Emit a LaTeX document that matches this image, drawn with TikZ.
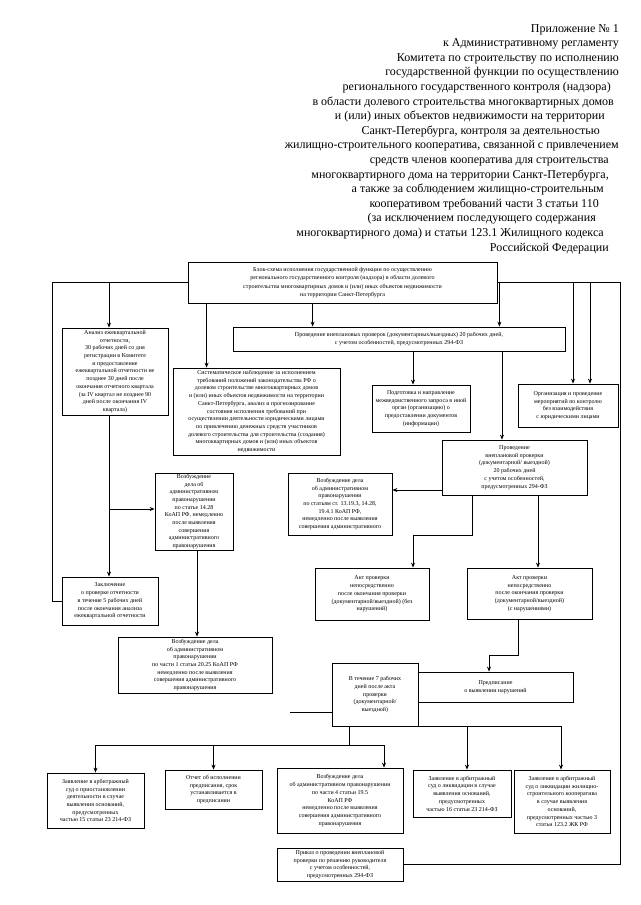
\documentclass[tikz,border=0pt]{standalone}
\usepackage{fontspec}
\setmainfont{Liberation Serif}
\usetikzlibrary{arrows.meta}
\tikzstyle{every node}=[inner sep=1pt]
\tikzstyle{head}=[anchor=base east,font=\fontsize{12}{14.6}\selectfont]
\tikzstyle{box}=[draw=black,thick,align=center,font=\fontsize{6}{7.7}\selectfont]
\tikzstyle{line}=[thick]
\tikzstyle{arrow}=[thick,-{Stealth[length=5pt,width=4pt]}]

\begin{document}
\begin{tikzpicture}[x=1pt,y=-1pt]
  \useasboundingbox (0,0) rectangle (640,905);
  % header
  \foreach \n/\xr/\txt in {0/620/{Приложение № 1},
      1/620/{к Административному регламенту},
      2/620/{Комитета по строительству по исполнению},
      3/620/{государственной функции по осуществлению},
      4/612/{регионального государственного контроля (надзора)},
      5/615/{в области долевого строительства многоквартирных домов},
      6/606/{и (или) иных объектов недвижимости на территории},
      7/601/{Санкт-Петербурга, контроля за деятельностью},
      8/620/{жилищно-строительного кооператива, связанной с привлечением},
      9/610/{средств членов кооператива для строительства},
      10/610/{многоквартирного дома на территории Санкт-Петербурга,},
      11/605/{а также за соблюдением жилищно-строительным},
      12/600/{кооперативом требований части 3 статьи 110},
      13/597/{(за исключением последующего содержания},
      14/605/{многоквартирного дома) и статьи 123.1 Жилищного кодекса},
      15/610/{Российской Федерации}}
    \node[head] (head\n) at (\xr,{32+14.6*\n}) {\txt};
  % boxes
  \node[box,minimum width=309,minimum height=41,font=\fontsize{6}{8.5}\selectfont] (blockscheme) at (342.5,282.5)
    {Блок-схема исполнения государственной функции по осуществлению\\
     регионального государственного контроля (надзора) в области долевого\\
     строительства многоквартирных домов и (или) иных объектов недвижимости\\
     на территории Санкт-Петербурга};
  \node[box,minimum width=106,minimum height=87] (analiz) at (115,371.5)
    {Анализ ежеквартальной\\ отчетности,\\ 30 рабочих дней со дня\\ регистрации в Комитете\\
     и предоставление\\ ежеквартальной отчетности не\\ позднее 30 дней после\\
     окончания отчетного квартала\\ (за IV квартал не позднее 90\\ дней после окончания IV\\ квартала)};
  \node[box,minimum width=332,minimum height=24] (vneplan) at (399,339)
    {Проведение внеплановых проверок (документарных/выездных) 20 рабочих дней,\\
     с учетом особенностей, предусмотренных 294-ФЗ};
  \node[box,minimum width=167,minimum height=87] (nabludenie) at (256.5,411.5)
    {Систематическое наблюдение за исполнением\\ требований положений законодательства РФ о\\
     долевом строительстве многоквартирных домов\\ и (или) иных объектов недвижимости на территории\\
     Санкт-Петербурга, анализ и прогнозирование\\ состояния исполнения требований при\\
     осуществлении деятельности юридическими лицами\\ по привлечению денежных средств участников\\
     долевого строительства для строительства (создания)\\ многоквартирных домов и (или) иных объектов\\
     недвижимости};
  \node[box,minimum width=98,minimum height=47] (zapros) at (421,408.5)
    {Подготовка и направление\\ межведомственного запроса в иной\\ орган (организацию) о\\
     предоставлении документов\\ (информации)};
  \node[box,minimum width=100,minimum height=43] (meropr) at (568,405.5)
    {Организация и проведение\\ мероприятий по контролю\\ без взаимодействия\\ с юридическими лицами};
  \node[box,minimum width=145,minimum height=55] (proverka) at (514.5,467.5)
    {Проведение\\ внеплановой проверки\\ (документарной/ выездной)\\ 20 рабочих дней\\
     с учетом особенностей,\\ предусмотренных 294-ФЗ};
  \node[box,minimum width=104,minimum height=62] (vozbstat) at (340,504)
    {Возбуждение дела\\ об административном\\ правонарушении\\ по статьям ст. 13.19.3, 14.28,\\
     19.4.1 КоАП РФ,\\ немедленно после выявления\\ совершения административного};
  \node[box,minimum width=78,minimum height=77] (vozbotch) at (194,511.5)
    {Возбуждение\\ дела об\\ административном\\ правонарушении\\ по статье 14.28\\
     КоАП РФ, немедленно\\ после выявления\\ совершения\\ административного\\ правонарушения};
  \node[box,minimum width=96,minimum height=48] (zakl) at (110,601)
    {Заключение\\ о проверке отчетности\\ в течение 5 рабочих дней\\ после окончания анализа\\
     ежеквартальной отчетности};
  \node[box,minimum width=154,minimum height=56] (vozbsrok) at (195,665)
    {Возбуждение дела\\ об административном\\ правонарушении\\ по части 1 статьи 20.25 КоАП РФ\\
     немедленно после выявления\\ совершения административного\\ правонарушения};
  \node[box,minimum width=114,minimum height=52] (aktbez) at (372,594)
    {Акт проверки\\ непосредственно\\ после окончания проверки\\ (документарной/выездной) (без\\ нарушений)};
  \node[box,minimum width=125,minimum height=51] (aktnar) at (529.5,593.5)
    {Акт проверки\\ непосредственно\\ после окончания проверки\\ (документарной/выездной)\\ (с нарушениями)};
  \node[box,minimum width=86,minimum height=63] (semdney) at (375,694.5)
    {В течение 7 рабочих\\ дней после акта\\ проверки\\ (документарной/\\ выездной)};
  \node[box,minimum width=155,minimum height=30] (predpis) at (495.5,687)
    {Предписание\\ о выявлении нарушений};
  \node[box,minimum width=97,minimum height=55] (zayavpriost) at (95.5,800.5)
    {Заявление в арбитражный\\ суд о приостановлении\\ деятельности в случае\\ выявления оснований,\\
     предусмотренных\\ частью 15 статьи 23 214-ФЗ};
  \node[box,minimum width=97,minimum height=39] (otchet) at (213.5,789.5)
    {Отчет об исполнении\\ предписания, срок\\ устанавливается в\\ предписании};
  \node[box,minimum width=126,minimum height=65] (vozbpredpis) at (340,800.5)
    {Возбуждение дела\\ об административном правонарушении\\ по части 4 статьи 19.5\\ КоАП РФ\\
     немедленно после выявления\\ совершения административного\\ правонарушения};
  \node[box,minimum width=98,minimum height=47] (zayavlikv) at (462,793.5)
    {Заявление в арбитражный\\ суд о ликвидации в случае\\ выявления оснований,\\
     предусмотренных\\ частью 16 статьи 23 214-ФЗ};
  \node[box,minimum width=96,minimum height=63] (zayavzhsk) at (562,801.5)
    {Заявление в арбитражный\\ суд о ликвидации жилищно-\\ строительного кооператива\\ в случае выявления\\
     оснований,\\ предусмотренных частью 3\\ статьи 123.2 ЖК РФ};
  \node[box,minimum width=126,minimum height=33] (prikaz) at (340,864.5)
    {Приказ о проведении внеплановой\\ проверки по решению руководителя\\ с учетом особенностей,\\
     предусмотренных 294-ФЗ};
  % connectors
  \draw[line] (blockscheme.west) -- ++(-135,0) |- (zakl.west);
  \draw[arrow] ([xshift=-6pt]analiz.north |- blockscheme.west) -- ([xshift=-6pt]analiz.north);
  \draw[arrow] ([xshift=19pt]blockscheme.south west) -- ([xshift=19pt]blockscheme.south west |- nabludenie.north);
  \draw[arrow] ([xshift=125pt]blockscheme.south west) -- ([xshift=125pt]blockscheme.south west |- vneplan.north);
  \draw[line] (blockscheme.east) -- ++(123,0) |- (prikaz.east);
  \draw[arrow] ([xshift=2pt]blockscheme.east) -- ([xshift=2pt]blockscheme.east |- vneplan.north);
  \draw[arrow] ([xshift=5pt]meropr.north |- blockscheme.east) -- ([xshift=5pt]meropr.north);
  \draw[arrow] ([xshift=22pt]meropr.north |- blockscheme.east) -- ([xshift=22pt]meropr.north);
  \draw[arrow] ([xshift=-8pt]zapros.south |- vneplan.south) -- ([xshift=-8pt]zapros.south |- zapros.north);
  \draw[arrow] ([xshift=-12.5pt]proverka.north |- vneplan.south) -- ([xshift=-12.5pt]proverka.north);
  \draw[arrow] ([xshift=-6pt]analiz.south) -- ([xshift=-6pt]analiz.south |- zakl.north);
  \draw[arrow] ([xshift=-6pt]analiz.south |- 0,509) -- (vozbotch.west |- 0,509);
  \draw[arrow] ([xshift=3pt]vozbotch.south) -- ([xshift=3pt]vozbotch.south |- vozbsrok.north);
  \draw[arrow] (proverka.west |- 0,490) -- (vozbstat.east |- 0,490);
  \draw[arrow] ([xshift=-42.5pt]proverka.south) -- ++(0,40) -| ([xshift=41pt]aktbez.north);
  \draw[arrow] ([xshift=23.5pt]proverka.south) -- ([xshift=23.5pt]proverka.south |- aktnar.north);
  \draw[arrow] ([xshift=-11.5pt]aktnar.south) -- ++(0,36) -| ([xshift=-6.5pt]predpis.north);
  \draw[line] ([xshift=-26pt]semdney.south) -- ++(0,18.5);
  \draw[line] (zayavpriost.north |- 0,745) -- ([xshift=44pt]vozbpredpis.north |- 0,745);
  \draw[arrow] (zayavpriost.north |- 0,745) -- (zayavpriost.north);
  \draw[arrow] (otchet.north |- 0,745) -- (otchet.north);
  \draw[arrow] ([xshift=44pt]vozbpredpis.north |- 0,745) -- ([xshift=44pt]vozbpredpis.north);
  \draw[line] (semdney.south east) -- ([xshift=-1pt]zayavzhsk.north |- semdney.south east);
  \draw[arrow] ([xshift=5pt]zayavlikv.north |- semdney.south east) -- ([xshift=5pt]zayavlikv.north);
  \draw[arrow] ([xshift=-1pt]zayavzhsk.north |- semdney.south east) -- ([xshift=-1pt]zayavzhsk.north);
  \draw[line] (semdney.west |- 0,712) -- ++(-42,0);
\end{tikzpicture}
\end{document}
